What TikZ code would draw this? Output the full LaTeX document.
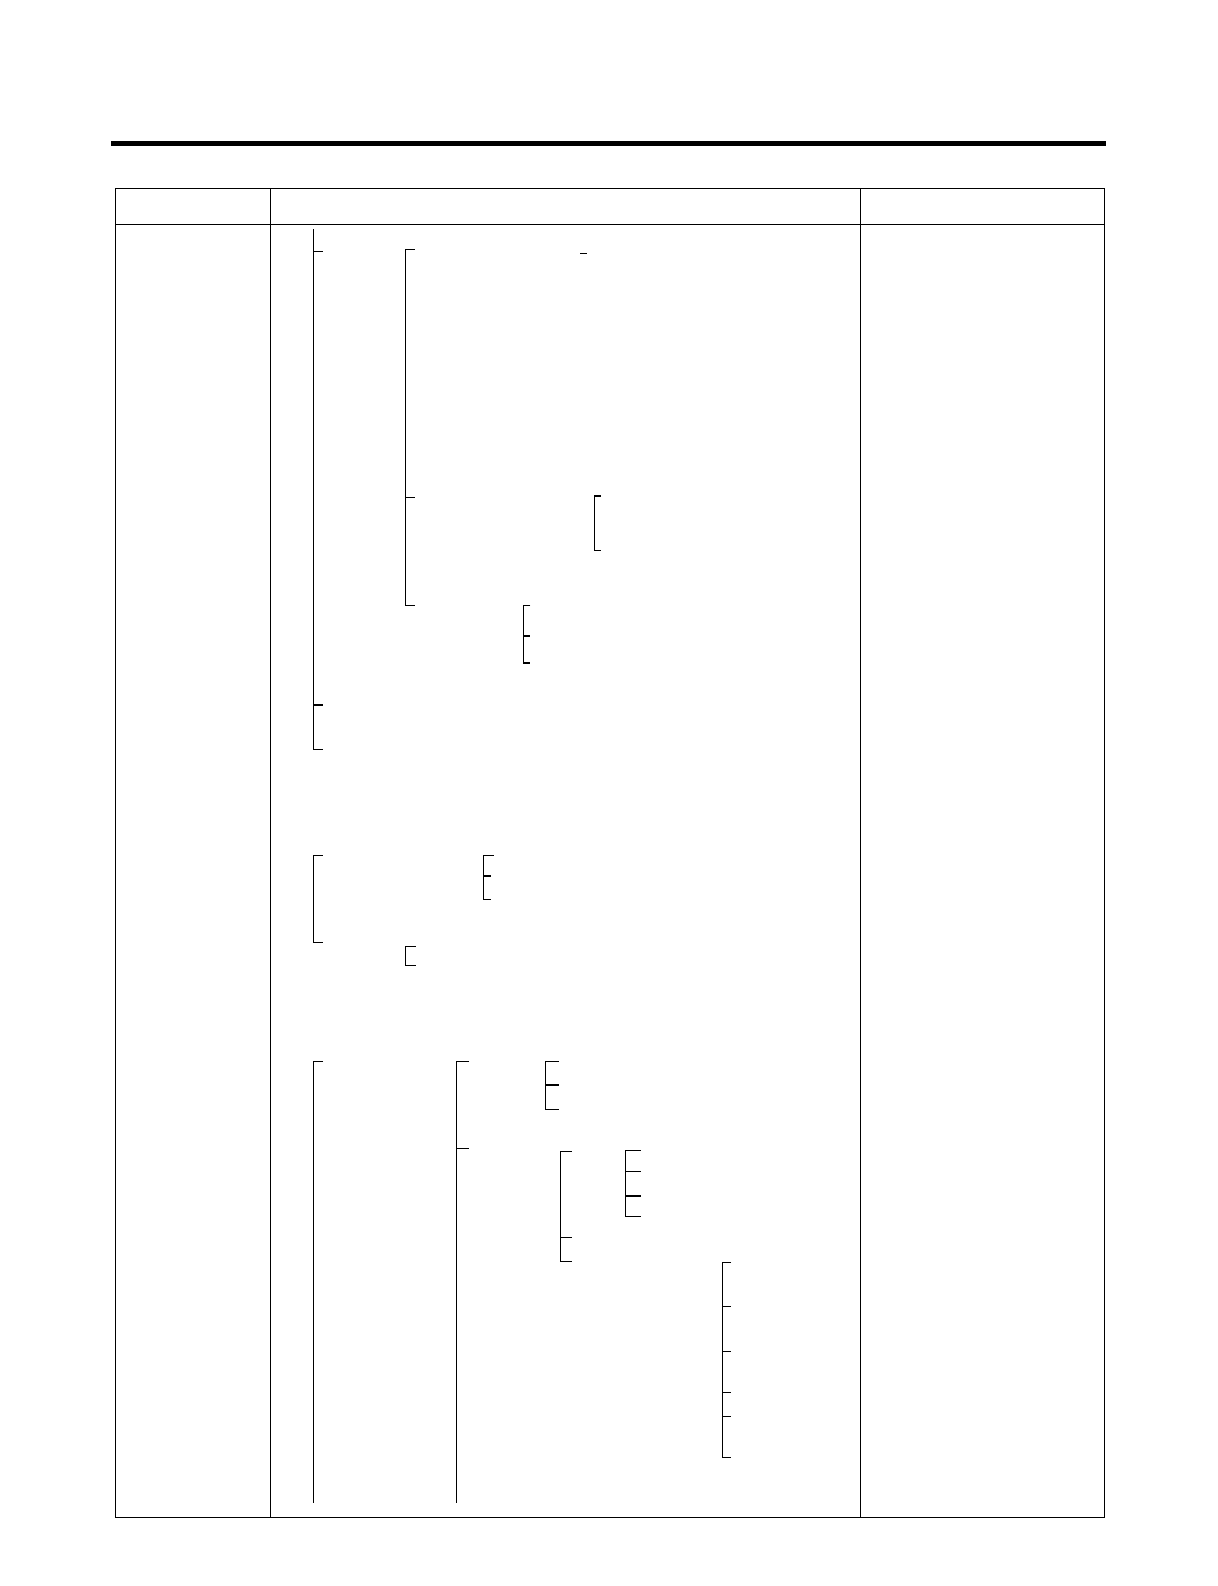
\documentclass[tikz,border=0pt]{standalone}
\begin{document}
\begin{tikzpicture}[x=0.5pt,y=-0.5pt,
  rulebar/.style={line width=2.6pt},
  frame/.style={line width=0.7pt},
  tree/.style={line width=0.7pt}]
\useasboundingbox (0,0) rectangle (1218,1586);
% top thick rule
\draw[rulebar] (111,143.5) -- (1106,143.5);
% table
\draw[frame] (115.3,188.7) rectangle (1104.5,1517.2);
\draw[frame] (115.3,224.5) -- (1104.5,224.5);
\draw[frame] (270.3,188.7) -- (270.3,1517.2);
\draw[frame] (860.3,188.7) -- (860.3,1517.2);
% ---- group 1
\draw[tree] (313.3,229) -- (313.3,749.3) -- (322.7,749.3);
\draw[tree] (313.3,251.3) -- (322.7,251.3);
\draw[tree] (313.3,705) -- (322.7,705);
\draw[tree] (414.5,249.3) -- (405.3,249.3) -- (405.3,605.3) -- (414.5,605.3);
\draw[tree] (405.3,497.3) -- (414.5,497.3);
\draw[tree] (580,253.3) -- (586.5,253.3);
\draw[tree] (600.7,496) -- (594.3,496) -- (594.3,550.3) -- (600.7,550.3);
\draw[tree] (530.3,605.3) -- (523.3,605.3) -- (523.3,663) -- (530.3,663);
\draw[tree] (523.3,636) -- (530.3,636);
% ---- group 2
\draw[tree] (322.7,855.3) -- (313.3,855.3) -- (313.3,942.3) -- (322.7,942.3);
\draw[tree] (493.5,855.3) -- (483.3,855.3) -- (483.3,899.3) -- (491,899.3);
\draw[tree] (483.3,876) -- (491,876);
\draw[tree] (415.7,946.3) -- (405.3,946.3) -- (405.3,965.3) -- (415.7,965.3);
% ---- group 3
\draw[tree] (323,1061.3) -- (313.3,1061.3) -- (313.3,1502.7);
\draw[tree] (469,1061.3) -- (456.3,1061.3) -- (456.3,1502.7);
\draw[tree] (456.3,1148.3) -- (469,1148.3);
\draw[tree] (558.7,1061.3) -- (545.3,1061.3) -- (545.3,1109.3) -- (558.7,1109.3);
\draw[tree] (545.3,1085) -- (558.7,1085);
\draw[tree] (571.7,1151.3) -- (560.3,1151.3) -- (560.3,1261.3) -- (571.7,1261.3);
\draw[tree] (560.3,1237.3) -- (571.7,1237.3);
\draw[tree] (640.7,1150.3) -- (625.3,1150.3) -- (625.3,1216.7) -- (640.7,1216.7);
\draw[tree] (625.3,1171.3) -- (640.7,1171.3);
\draw[tree] (625.3,1196) -- (640.7,1196);
\draw[tree] (731,1262.3) -- (722.7,1262.3) -- (722.7,1457.3) -- (731,1457.3);
\draw[tree] (722.7,1306.3) -- (731,1306.3);
\draw[tree] (722.7,1351.3) -- (731,1351.3);
\draw[tree] (722.7,1392.3) -- (731,1392.3);
\draw[tree] (722.7,1416.3) -- (731,1416.3);
\end{tikzpicture}
\end{document}
